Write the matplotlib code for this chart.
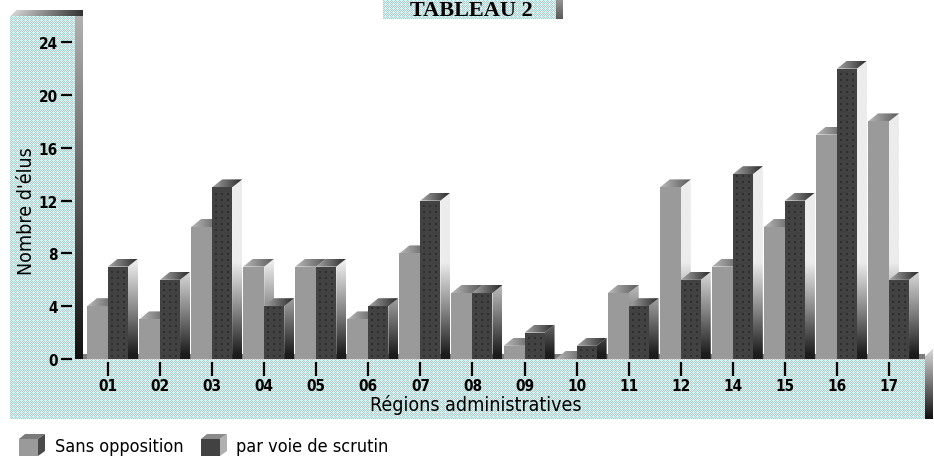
import numpy as np
import matplotlib
matplotlib.use("Agg")
import matplotlib.pyplot as plt
from matplotlib.patches import Polygon, Rectangle
from matplotlib.colors import LinearSegmentedColormap

regions = ["01", "02", "03", "04", "05", "06", "07", "08",
           "09", "10", "11", "12", "14", "15", "16", "17"]
sans_opposition = [4, 3, 10, 7, 7, 3, 8, 5, 1, 0, 5, 13, 7, 10, 17, 18]
par_scrutin = [7, 6, 13, 4, 7, 4, 12, 5, 2, 1, 4, 6, 14, 12, 22, 6]
yticks = [0, 4, 8, 12, 16, 20, 24]

W, H = 934, 460
FONT = dict(family=["DejaVu Sans"], stretch="condensed")

fig = plt.figure(figsize=(W / 100, H / 100), dpi=100)
fig.patch.set_facecolor("white")

# --- background panels (dithered walls / floor) in pixel coordinates ---
bg = fig.add_axes([0, 0, 1, 1], zorder=0)
bg.set_xlim(0, W)
bg.set_ylim(H, 0)
bg.axis("off")

img = np.ones((H, W, 3))
yy, xx = np.mgrid[0:H, 0:W]
cyan = np.array([198, 252, 248]) / 255
grey = np.array([196, 196, 198]) / 255
green = np.array([226, 252, 224]) / 255
checker = np.where(((xx + yy) % 2 == 0)[..., None], grey, cyan)
spots = (xx % 4 == 1) & (yy % 4 == 1)
checker[spots] = green

def fill(x0, x1, y0, y1):
    img[y0:y1, x0:x1] = checker[y0:y1, x0:x1]

def vgrad(x0, x1, y0, y1, c0, c1):
    col = np.linspace(np.array(c0), np.array(c1), y1 - y0) / 255
    img[y0:y1, x0:x1] = col[:, None, :]

fill(10, 75, 17, 420)
fill(10, 925, 360, 420)
fill(383, 556, 0, 20)
vgrad(75, 83, 11, 360, (180, 180, 180), (16, 16, 16))
vgrad(925, 933, 350, 420, (216, 216, 216), (16, 16, 16))
vgrad(556, 563, 0, 20, (150, 150, 150), (90, 90, 90))
for r in range(11, 17):
    s = 10 + (17 - r)
    row = np.linspace(np.array([210, 210, 210]), np.array([50, 50, 50]), 83 - s) / 255
    img[r, s:83] = row
for c in range(925, 933):
    img[350:357 - (c - 925), c] = 1.0

bg.imshow(img, extent=(0, W, H, 0), interpolation="nearest", aspect="auto")

# --- main plot area ---
ax = fig.add_axes([83 / W, 100 / H, 842 / W, 340 / H], zorder=1)
ax.patch.set_visible(False)

PX_X = 52.07   # pixels per category
PX_Y = 13.2    # pixels per unit
wl, wd = 21 / PX_X, 20 / PX_X
dx, dy = 10 / PX_X, 8 / PX_Y
ytop = 340 / PX_Y

side_cmap = LinearSegmentedColormap.from_list("side", ["#1c1c1c", "#8a8a8a", "#ececec"])
side_vals = np.clip((np.linspace(0, ytop, 200) - 0.3) / 7.0, 0, 1)[:, None]

def gradient_poly(verts, arr, cmap, extent, z):
    poly = Polygon(verts, closed=True, facecolor="none", edgecolor="none", zorder=z)
    ax.add_patch(poly)
    im = ax.imshow(arr, cmap=cmap, extent=extent, origin="lower", aspect="auto",
                   interpolation="bilinear", vmin=0, vmax=1, zorder=z)
    im.set_clip_path(poly)

def box(x0, w, v, front, cap0, cap1, z, dots=False):
    x1 = x0 + w
    side = [(x1, 0), (x1, v), (x1 + dx, v + dy), (x1 + dx, 0)]
    gradient_poly(side, side_vals, side_cmap, (x1, x1 + dx, 0, ytop), z)
    ax.add_patch(Rectangle((x0, 0), w, v, facecolor=front, edgecolor="none", zorder=z + 0.1))
    if dots and v > 0:
        # faint dotted texture on the dark faces
        gx = np.arange(x0 + 4 / PX_X, x1 - 2 / PX_X, 6 / PX_X)
        gy = np.arange(3 / PX_Y, v - 1 / PX_Y, 6 / PX_Y)
        mx, my = np.meshgrid(gx, gy)
        ax.scatter(mx.ravel(), my.ravel(), s=3, marker="s", color="#2e2e2e",
                   linewidths=0, zorder=z + 0.15)
    cap = [(x0, v), (x1, v), (x1 + dx, v + dy), (x0 + dx, v + dy)]
    cmap = LinearSegmentedColormap.from_list("cap", [cap0, cap1])
    gradient_poly(cap, np.linspace(0, 1, 64)[None, :], cmap,
                  (x0, x1 + dx, v, v + dy), z + 0.2)

# thin strip along the back of the floor
ax.add_patch(Rectangle((-0.5, 0), 16.5, 5 / PX_Y, facecolor="#7c7c7c",
                       edgecolor="none", zorder=1))

z = 2
for i, (a, b) in enumerate(zip(sans_opposition, par_scrutin)):
    box(i - wl, wl, a, "#9a9a9a", "#b8b8b8", "#5a5a5a", z)
    box(i, wd, b, "#424242", "#a4a4a4", "#2a2a2a", z + 1, dots=True)
    z += 2

ax.set_xlim(-25 / PX_X, 817 / PX_X)
ax.set_ylim(0, ytop)
for s in ax.spines.values():
    s.set_visible(False)
ax.spines["left"].set_position(("outward", 8))
ax.spines["bottom"].set_position(("outward", 2))
ax.set_xticks(range(len(regions)))
ax.set_xticklabels(regions, fontsize=11, fontweight="bold", **FONT)
ax.set_yticks(yticks)
ax.set_yticklabels([str(t) for t in yticks], fontsize=11, fontweight="bold", **FONT)
ax.tick_params(axis="x", length=10, width=1.6, pad=2, color="black")
ax.tick_params(axis="y", length=8, width=1.6, pad=2, color="black")

# --- titles and axis names ---
bg.text(471, 16, "TABLEAU 2", family=["Liberation Serif", "DejaVu Serif"],
        fontsize=16, fontweight="bold", ha="center", va="baseline")
bg.text(27, 211, "Nombre d'élus", fontsize=14, rotation=90,
        ha="center", va="center", **FONT)
bg.text(476, 405, "Régions administratives", fontsize=14,
        ha="center", va="center", **FONT)

# --- legend ---
def legend_cube(x, front, cap0, cap1):
    bg.add_patch(Rectangle((x, 440), 19, 17, facecolor=front, edgecolor="none"))
    bg.add_patch(Polygon([(x, 440), (x + 19, 440), (x + 26, 435), (x + 6, 435)],
                         facecolor=cap0, edgecolor="none"))
    bg.add_patch(Polygon([(x + 19, 440), (x + 26, 435), (x + 26, 452), (x + 19, 457)],
                         facecolor=cap1, edgecolor="none"))

legend_cube(19, "#9a9a9a", "#7a7a7a", "#4a4a4a")
bg.text(55, 447, "Sans opposition", fontsize=13, ha="left", va="center", **FONT)
legend_cube(201, "#424242", "#8a8a8a", "#b0b0b0")
bg.text(236, 447, "par voie de scrutin", fontsize=13, ha="left", va="center", **FONT)

fig.savefig("out.png", dpi=100)
